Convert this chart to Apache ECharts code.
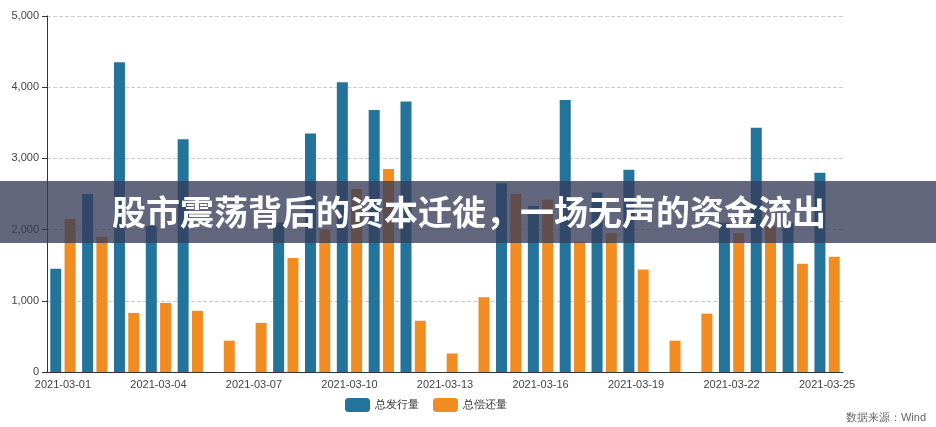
<!DOCTYPE html>
<html>
<head>
<meta charset="utf-8">
<script src="https://cdn.jsdelivr.net/npm/echarts@6/dist/echarts.min.js"></script>
<style>html,body{margin:0;padding:0;background:#fff}#main{width:936px;height:427px}</style>
</head>
<body>
<div id="main"></div>
<script>
var dates = [];
for (var d = 1; d <= 25; d++) dates.push('2021-03-' + (d < 10 ? '0' + d : d));
var issue = [1450, 2500, 4350, 2050, 3270, 0, 0, 2100, 3350, 4070, 3680, 3800, 0, 0, 2650, 2330, 3820, 2520, 2840, 0, 0, 2100, 3430, 2100, 2800];
var repay = [2150, 1900, 830, 970, 860, 440, 690, 1600, 2000, 2570, 2850, 720, 260, 1050, 2500, 2420, 1830, 1950, 1440, 440, 820, 1950, 2050, 1520, 1620];
var yTicks = [0, 1000, 2000, 3000, 4000, 5000];

var myChart = echarts.init(document.getElementById('main'));
var option = {
    animation: false,
    grid: { left: 47, right: 93, top: 16, bottom: 55 },
    legend: {
        bottom: 10, left: 340, itemWidth: 25, itemHeight: 14, itemGap: 14,
        textStyle: { fontSize: 11, color: '#333' },
        data: ['总发行量', '总偿还量']
    },
    xAxis: {
        type: 'category', data: dates,
        axisTick: { interval: 2, alignWithLabel: false },
        axisLabel: { interval: 2, color: '#444', fontSize: 11, margin: 7 },
        axisLine: { lineStyle: { color: '#333' } }
    },
    yAxis: {
        type: 'value', min: yTicks[0], max: yTicks[yTicks.length - 1], interval: 1000,
        axisLine: { show: true, lineStyle: { color: '#333' } },
        axisTick: { show: true },
        axisLabel: { color: '#444', fontSize: 11, formatter: function (v) { return v.toLocaleString('en-US'); } },
        splitLine: { lineStyle: { type: 'dashed', color: '#ccc' } }
    },
    series: [
        { name: '总发行量', type: 'bar', data: issue, barWidth: 11, barGap: '30%', itemStyle: { color: '#23739b' } },
        { name: '总偿还量', type: 'bar', data: repay, barWidth: 11, itemStyle: { color: '#f08c22' } }
    ],
    graphic: [
        { type: 'text', right: 10, bottom: 4, style: { text: '数据来源：Wind', fill: '#666', fontSize: 11 } },
        { type: 'rect', left: 0, top: 181, z: 100, shape: { width: 936, height: 62 }, style: { fill: 'rgba(55,60,90,0.78)' } },
        { type: 'text', left: 112, top: 195, z: 101, style: { text: '股市震荡背后的资本迁徙，一场无声的资金流出', fill: '#fff', fontSize: 34, fontWeight: 'bold', fontFamily: 'Noto Sans CJK SC' } }
    ]
};
myChart.setOption(option);
</script>
</body>
</html>
